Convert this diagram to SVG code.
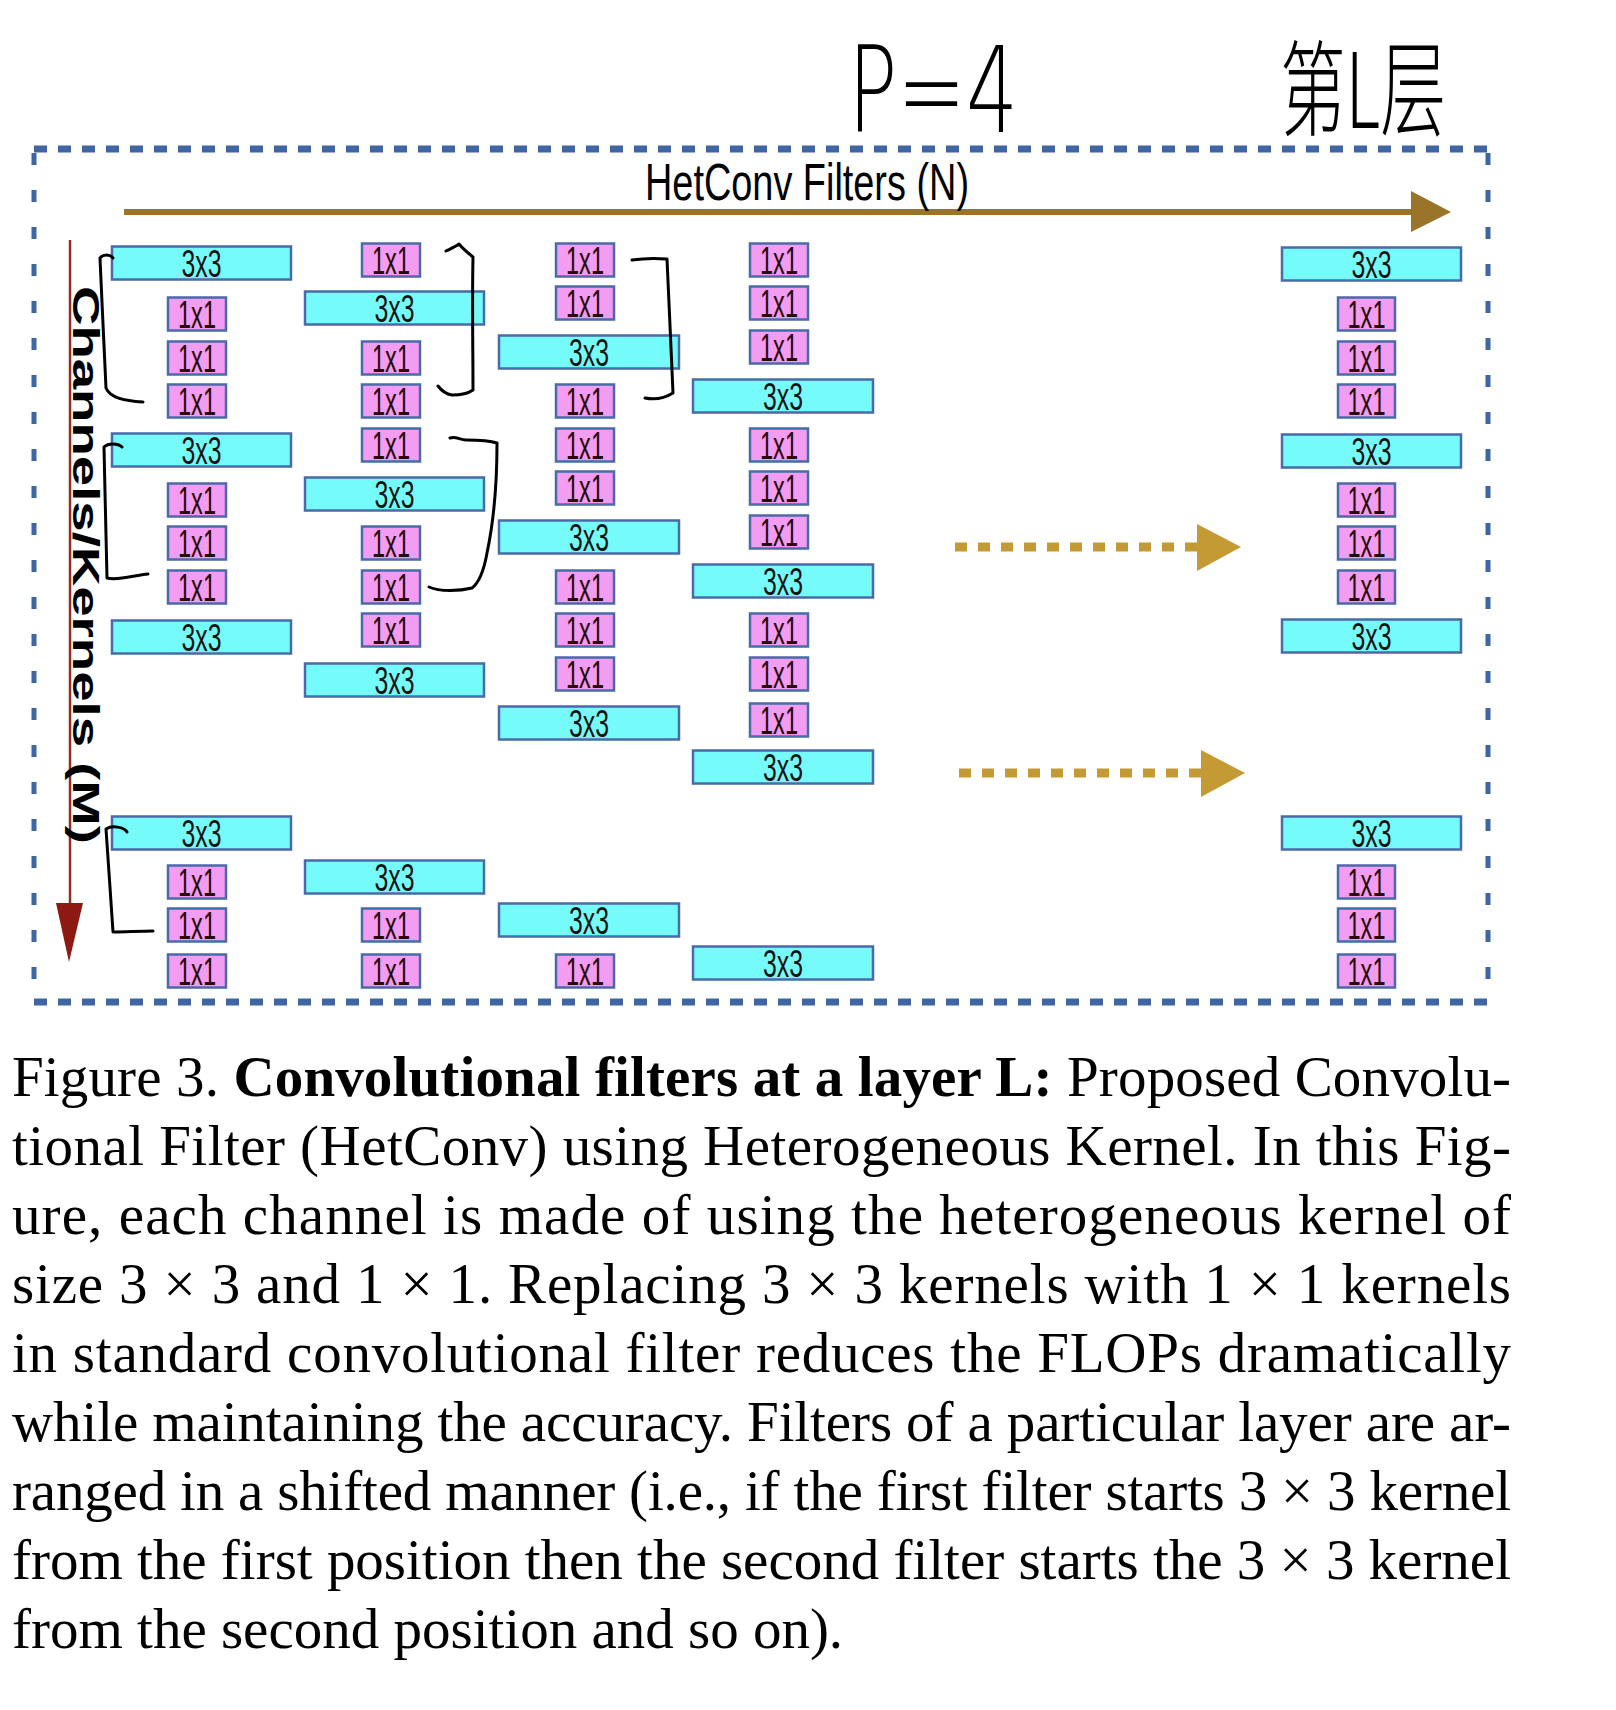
<svg xmlns="http://www.w3.org/2000/svg" width="1616" height="1710" viewBox="0 0 1616 1710">
<style>
.k3{fill:#76fbfb;stroke:#4a6aa8;stroke-width:2.5}
.k1{fill:#f29cf2;stroke:#4a6aa8;stroke-width:2.5}
.t{font-family:"Liberation Sans",Arial,sans-serif;font-size:38px;text-anchor:middle;fill:#141414}
.t1{font-family:"Liberation Sans",Arial,sans-serif;font-size:38px;text-anchor:middle;fill:#2a0808}
.br{fill:none;stroke:#000;stroke-width:3;stroke-linecap:round;stroke-linejoin:round}
.cap{font-family:"Liberation Serif","Times New Roman",serif;font-size:57px;fill:#000}
.hb{stroke:#3f66a2;stroke-width:7;stroke-dasharray:13 11}
.vb{stroke:#3f66a2;stroke-width:5;stroke-dasharray:12 25}
.dot{stroke:#c49a35;stroke-width:9;stroke-dasharray:12 11}
</style>

<!-- handwritten annotations -->
<text x="848" y="132" font-family="DejaVu Sans, sans-serif" font-weight="200" font-size="120" textLength="170" lengthAdjust="spacingAndGlyphs" fill="#000">P=4</text>
<text x="1280" y="128" font-family="Noto Sans CJK SC, sans-serif" font-weight="300" font-size="104" textLength="166" lengthAdjust="spacingAndGlyphs" fill="#000">第L层</text>

<!-- dashed frame -->
<g id="frame">
<line class="hb" x1="34" y1="149" x2="1490" y2="149"/>
<line class="hb" x1="34" y1="1002" x2="1490" y2="1002"/>
<line class="vb" x1="34" y1="153" x2="34" y2="998"/>
<line class="vb" x1="1488" y1="153" x2="1488" y2="998"/>
</g>

<!-- axes -->
<g id="axes">
<line x1="124" y1="212" x2="1413" y2="212" stroke="#9a7428" stroke-width="6"/>
<polygon points="1411,191 1451,212 1411,232" fill="#9a7428"/>
<text x="645" y="200" font-family="Liberation Sans, Arial, sans-serif" font-size="52" textLength="324" lengthAdjust="spacingAndGlyphs" fill="#000">HetConv Filters (N)</text>
<line x1="70" y1="240" x2="70" y2="905" stroke="#9b2a20" stroke-width="2.5"/>
<polygon points="56,903 83,903 69,962" fill="#8c1a12"/>
<text transform="translate(73,286) rotate(90)" font-family="Liberation Sans, Arial, sans-serif" font-weight="bold" font-size="36" textLength="558" lengthAdjust="spacingAndGlyphs" fill="#000">Channels/Kernels  (M)</text>
</g>

<!-- column 1 -->
<g id="c1n1"><rect class="k3" x="112" y="246.5" width="179" height="33"/><text class="t" x="201.5" y="276.5" textLength="40" lengthAdjust="spacingAndGlyphs">3x3</text></g>
<g id="c1n2"><rect class="k1" x="168" y="297.5" width="58" height="33"/><text class="t1" x="197" y="327.5" textLength="38" lengthAdjust="spacingAndGlyphs">1x1</text></g>
<g id="c1n3"><rect class="k1" x="168" y="341.5" width="58" height="33"/><text class="t1" x="197" y="371.5" textLength="38" lengthAdjust="spacingAndGlyphs">1x1</text></g>
<g id="c1n4"><rect class="k1" x="168" y="384.5" width="58" height="33"/><text class="t1" x="197" y="414.5" textLength="38" lengthAdjust="spacingAndGlyphs">1x1</text></g>
<g id="c1n5"><rect class="k3" x="112" y="433.5" width="179" height="33"/><text class="t" x="201.5" y="463.5" textLength="40" lengthAdjust="spacingAndGlyphs">3x3</text></g>
<g id="c1n6"><rect class="k1" x="168" y="483.5" width="58" height="33"/><text class="t1" x="197" y="513.5" textLength="38" lengthAdjust="spacingAndGlyphs">1x1</text></g>
<g id="c1n7"><rect class="k1" x="168" y="526.5" width="58" height="33"/><text class="t1" x="197" y="556.5" textLength="38" lengthAdjust="spacingAndGlyphs">1x1</text></g>
<g id="c1n8"><rect class="k1" x="168" y="570.5" width="58" height="33"/><text class="t1" x="197" y="600.5" textLength="38" lengthAdjust="spacingAndGlyphs">1x1</text></g>
<g id="c1n9"><rect class="k3" x="112" y="620.5" width="179" height="33"/><text class="t" x="201.5" y="650.5" textLength="40" lengthAdjust="spacingAndGlyphs">3x3</text></g>
<g id="c1n10"><rect class="k3" x="112" y="816.5" width="179" height="33"/><text class="t" x="201.5" y="846.5" textLength="40" lengthAdjust="spacingAndGlyphs">3x3</text></g>
<g id="c1n11"><rect class="k1" x="168" y="865.5" width="58" height="33"/><text class="t1" x="197" y="895.5" textLength="38" lengthAdjust="spacingAndGlyphs">1x1</text></g>
<g id="c1n12"><rect class="k1" x="168" y="908.5" width="58" height="33"/><text class="t1" x="197" y="938.5" textLength="38" lengthAdjust="spacingAndGlyphs">1x1</text></g>
<g id="c1n13"><rect class="k1" x="168" y="954.5" width="58" height="33"/><text class="t1" x="197" y="984.5" textLength="38" lengthAdjust="spacingAndGlyphs">1x1</text></g>

<!-- column 2 -->
<g id="c2n1"><rect class="k1" x="362" y="243.5" width="58" height="33"/><text class="t1" x="391" y="273.5" textLength="38" lengthAdjust="spacingAndGlyphs">1x1</text></g>
<g id="c2n2"><rect class="k3" x="305" y="291.5" width="179" height="33"/><text class="t" x="394.5" y="321.5" textLength="40" lengthAdjust="spacingAndGlyphs">3x3</text></g>
<g id="c2n3"><rect class="k1" x="362" y="341.5" width="58" height="33"/><text class="t1" x="391" y="371.5" textLength="38" lengthAdjust="spacingAndGlyphs">1x1</text></g>
<g id="c2n4"><rect class="k1" x="362" y="384.5" width="58" height="33"/><text class="t1" x="391" y="414.5" textLength="38" lengthAdjust="spacingAndGlyphs">1x1</text></g>
<g id="c2n5"><rect class="k1" x="362" y="428.5" width="58" height="33"/><text class="t1" x="391" y="458.5" textLength="38" lengthAdjust="spacingAndGlyphs">1x1</text></g>
<g id="c2n6"><rect class="k3" x="305" y="477.5" width="179" height="33"/><text class="t" x="394.5" y="507.5" textLength="40" lengthAdjust="spacingAndGlyphs">3x3</text></g>
<g id="c2n7"><rect class="k1" x="362" y="526.5" width="58" height="33"/><text class="t1" x="391" y="556.5" textLength="38" lengthAdjust="spacingAndGlyphs">1x1</text></g>
<g id="c2n8"><rect class="k1" x="362" y="570.5" width="58" height="33"/><text class="t1" x="391" y="600.5" textLength="38" lengthAdjust="spacingAndGlyphs">1x1</text></g>
<g id="c2n9"><rect class="k1" x="362" y="613.5" width="58" height="33"/><text class="t1" x="391" y="643.5" textLength="38" lengthAdjust="spacingAndGlyphs">1x1</text></g>
<g id="c2n10"><rect class="k3" x="305" y="663.5" width="179" height="33"/><text class="t" x="394.5" y="693.5" textLength="40" lengthAdjust="spacingAndGlyphs">3x3</text></g>
<g id="c2n11"><rect class="k3" x="305" y="860.5" width="179" height="33"/><text class="t" x="394.5" y="890.5" textLength="40" lengthAdjust="spacingAndGlyphs">3x3</text></g>
<g id="c2n12"><rect class="k1" x="362" y="908.5" width="58" height="33"/><text class="t1" x="391" y="938.5" textLength="38" lengthAdjust="spacingAndGlyphs">1x1</text></g>
<g id="c2n13"><rect class="k1" x="362" y="954.5" width="58" height="33"/><text class="t1" x="391" y="984.5" textLength="38" lengthAdjust="spacingAndGlyphs">1x1</text></g>

<!-- column 3 -->
<g id="c3n1"><rect class="k1" x="556" y="243.5" width="58" height="33"/><text class="t1" x="585" y="273.5" textLength="38" lengthAdjust="spacingAndGlyphs">1x1</text></g>
<g id="c3n2"><rect class="k1" x="556" y="286.5" width="58" height="33"/><text class="t1" x="585" y="316.5" textLength="38" lengthAdjust="spacingAndGlyphs">1x1</text></g>
<g id="c3n3"><rect class="k3" x="499" y="335.5" width="180" height="33"/><text class="t" x="589" y="365.5" textLength="40" lengthAdjust="spacingAndGlyphs">3x3</text></g>
<g id="c3n4"><rect class="k1" x="556" y="384.5" width="58" height="33"/><text class="t1" x="585" y="414.5" textLength="38" lengthAdjust="spacingAndGlyphs">1x1</text></g>
<g id="c3n5"><rect class="k1" x="556" y="428.5" width="58" height="33"/><text class="t1" x="585" y="458.5" textLength="38" lengthAdjust="spacingAndGlyphs">1x1</text></g>
<g id="c3n6"><rect class="k1" x="556" y="471.5" width="58" height="33"/><text class="t1" x="585" y="501.5" textLength="38" lengthAdjust="spacingAndGlyphs">1x1</text></g>
<g id="c3n7"><rect class="k3" x="499" y="520.5" width="180" height="33"/><text class="t" x="589" y="550.5" textLength="40" lengthAdjust="spacingAndGlyphs">3x3</text></g>
<g id="c3n8"><rect class="k1" x="556" y="570.5" width="58" height="33"/><text class="t1" x="585" y="600.5" textLength="38" lengthAdjust="spacingAndGlyphs">1x1</text></g>
<g id="c3n9"><rect class="k1" x="556" y="613.5" width="58" height="33"/><text class="t1" x="585" y="643.5" textLength="38" lengthAdjust="spacingAndGlyphs">1x1</text></g>
<g id="c3n10"><rect class="k1" x="556" y="657.5" width="58" height="33"/><text class="t1" x="585" y="687.5" textLength="38" lengthAdjust="spacingAndGlyphs">1x1</text></g>
<g id="c3n11"><rect class="k3" x="499" y="706.5" width="180" height="33"/><text class="t" x="589" y="736.5" textLength="40" lengthAdjust="spacingAndGlyphs">3x3</text></g>
<g id="c3n12"><rect class="k3" x="499" y="903.5" width="180" height="33"/><text class="t" x="589" y="933.5" textLength="40" lengthAdjust="spacingAndGlyphs">3x3</text></g>
<g id="c3n13"><rect class="k1" x="556" y="954.5" width="58" height="33"/><text class="t1" x="585" y="984.5" textLength="38" lengthAdjust="spacingAndGlyphs">1x1</text></g>

<!-- column 4 -->
<g id="c4n1"><rect class="k1" x="750" y="243.5" width="58" height="33"/><text class="t1" x="779" y="273.5" textLength="38" lengthAdjust="spacingAndGlyphs">1x1</text></g>
<g id="c4n2"><rect class="k1" x="750" y="286.5" width="58" height="33"/><text class="t1" x="779" y="316.5" textLength="38" lengthAdjust="spacingAndGlyphs">1x1</text></g>
<g id="c4n3"><rect class="k1" x="750" y="330.5" width="58" height="33"/><text class="t1" x="779" y="360.5" textLength="38" lengthAdjust="spacingAndGlyphs">1x1</text></g>
<g id="c4n4"><rect class="k3" x="693" y="379.5" width="180" height="33"/><text class="t" x="783" y="409.5" textLength="40" lengthAdjust="spacingAndGlyphs">3x3</text></g>
<g id="c4n5"><rect class="k1" x="750" y="428.5" width="58" height="33"/><text class="t1" x="779" y="458.5" textLength="38" lengthAdjust="spacingAndGlyphs">1x1</text></g>
<g id="c4n6"><rect class="k1" x="750" y="471.5" width="58" height="33"/><text class="t1" x="779" y="501.5" textLength="38" lengthAdjust="spacingAndGlyphs">1x1</text></g>
<g id="c4n7"><rect class="k1" x="750" y="515.5" width="58" height="33"/><text class="t1" x="779" y="545.5" textLength="38" lengthAdjust="spacingAndGlyphs">1x1</text></g>
<g id="c4n8"><rect class="k3" x="693" y="564.5" width="180" height="33"/><text class="t" x="783" y="594.5" textLength="40" lengthAdjust="spacingAndGlyphs">3x3</text></g>
<g id="c4n9"><rect class="k1" x="750" y="613.5" width="58" height="33"/><text class="t1" x="779" y="643.5" textLength="38" lengthAdjust="spacingAndGlyphs">1x1</text></g>
<g id="c4n10"><rect class="k1" x="750" y="657.5" width="58" height="33"/><text class="t1" x="779" y="687.5" textLength="38" lengthAdjust="spacingAndGlyphs">1x1</text></g>
<g id="c4n11"><rect class="k1" x="750" y="703.5" width="58" height="33"/><text class="t1" x="779" y="733.5" textLength="38" lengthAdjust="spacingAndGlyphs">1x1</text></g>
<g id="c4n12"><rect class="k3" x="693" y="750.5" width="180" height="33"/><text class="t" x="783" y="780.5" textLength="40" lengthAdjust="spacingAndGlyphs">3x3</text></g>
<g id="c4n13"><rect class="k3" x="693" y="946.5" width="180" height="33"/><text class="t" x="783" y="976.5" textLength="40" lengthAdjust="spacingAndGlyphs">3x3</text></g>

<!-- column 5 (last filter) -->
<g id="c5n1"><rect class="k3" x="1282" y="247.5" width="179" height="33"/><text class="t" x="1371.5" y="277.5" textLength="40" lengthAdjust="spacingAndGlyphs">3x3</text></g>
<g id="c5n2"><rect class="k1" x="1338" y="297.5" width="57" height="33"/><text class="t1" x="1366.5" y="327.5" textLength="38" lengthAdjust="spacingAndGlyphs">1x1</text></g>
<g id="c5n3"><rect class="k1" x="1338" y="341.5" width="57" height="33"/><text class="t1" x="1366.5" y="371.5" textLength="38" lengthAdjust="spacingAndGlyphs">1x1</text></g>
<g id="c5n4"><rect class="k1" x="1338" y="384.5" width="57" height="33"/><text class="t1" x="1366.5" y="414.5" textLength="38" lengthAdjust="spacingAndGlyphs">1x1</text></g>
<g id="c5n5"><rect class="k3" x="1282" y="434.5" width="179" height="33"/><text class="t" x="1371.5" y="464.5" textLength="40" lengthAdjust="spacingAndGlyphs">3x3</text></g>
<g id="c5n6"><rect class="k1" x="1338" y="483.5" width="57" height="33"/><text class="t1" x="1366.5" y="513.5" textLength="38" lengthAdjust="spacingAndGlyphs">1x1</text></g>
<g id="c5n7"><rect class="k1" x="1338" y="526.5" width="57" height="33"/><text class="t1" x="1366.5" y="556.5" textLength="38" lengthAdjust="spacingAndGlyphs">1x1</text></g>
<g id="c5n8"><rect class="k1" x="1338" y="570.5" width="57" height="33"/><text class="t1" x="1366.5" y="600.5" textLength="38" lengthAdjust="spacingAndGlyphs">1x1</text></g>
<g id="c5n9"><rect class="k3" x="1282" y="619.5" width="179" height="33"/><text class="t" x="1371.5" y="649.5" textLength="40" lengthAdjust="spacingAndGlyphs">3x3</text></g>
<g id="c5n10"><rect class="k3" x="1282" y="816.5" width="179" height="33"/><text class="t" x="1371.5" y="846.5" textLength="40" lengthAdjust="spacingAndGlyphs">3x3</text></g>
<g id="c5n11"><rect class="k1" x="1338" y="865.5" width="57" height="33"/><text class="t1" x="1366.5" y="895.5" textLength="38" lengthAdjust="spacingAndGlyphs">1x1</text></g>
<g id="c5n12"><rect class="k1" x="1338" y="908.5" width="57" height="33"/><text class="t1" x="1366.5" y="938.5" textLength="38" lengthAdjust="spacingAndGlyphs">1x1</text></g>
<g id="c5n13"><rect class="k1" x="1338" y="954.5" width="57" height="33"/><text class="t1" x="1366.5" y="984.5" textLength="38" lengthAdjust="spacingAndGlyphs">1x1</text></g>

<!-- connectors: dotted continuation arrows and handwritten brackets -->
<g id="connectors">
<line class="dot" x1="955" y1="547" x2="1197" y2="547"/>
<polygon points="1197,524 1241,547 1197,571" fill="#c49a35"/>
<line class="dot" x1="959" y1="773" x2="1201" y2="773"/>
<polygon points="1201,750 1245,773 1201,797" fill="#c49a35"/>
<path class="br" d="M113,258 C110,254 103,254 100,258 C102,300 104,350 106,388 C110,398 125,401 143,402"/>
<path class="br" d="M122,447 C118,443 108,443 104,447 C105,490 106,540 107,578 C118,581 135,575 148,574"/>
<path class="br" d="M127,832 C124,827 112,825 106,829 C108,860 111,900 113,932 C125,932 140,931 153,931"/>
<path class="br" d="M446,251 C450,249 455,247 459,244 C463,249 468,253 473,257 C472,300 473,350 473,390 C466,395 458,395 452,395 C446,394 441,390 438,386"/>
<path class="br" d="M450,438 C456,436 460,440 466,440 C476,440 488,440 497,443 C497,480 494,520 487,553 C484,570 480,582 472,588 C460,591 440,592 429,587"/>
<path class="br" d="M632,260 C645,258 656,258 667,259 C669,300 671,350 673,393 C665,398 655,400 645,398"/>
</g>

<!-- caption -->
<g id="caption">
<text class="cap" x="12" y="1096" textLength="1499">Figure 3. <tspan font-weight="bold">Convolutional filters at a layer L:</tspan> Proposed Convolu-</text>
<text class="cap" x="12" y="1165" textLength="1499">tional Filter (HetConv) using Heterogeneous Kernel.  In this Fig-</text>
<text class="cap" x="12" y="1234" textLength="1499">ure, each channel is made of using the heterogeneous kernel of</text>
<text class="cap" x="12" y="1303" textLength="1499">size 3 × 3 and 1 × 1. Replacing 3 × 3 kernels with 1 × 1 kernels</text>
<text class="cap" x="12" y="1372" textLength="1499">in standard convolutional filter reduces the FLOPs dramatically</text>
<text class="cap" x="12" y="1441" textLength="1499">while maintaining the accuracy. Filters of a particular layer are ar-</text>
<text class="cap" x="12" y="1510" textLength="1499">ranged in a shifted manner (i.e., if the first filter starts 3 × 3 kernel</text>
<text class="cap" x="12" y="1579" textLength="1499">from the first position then the second filter starts the 3 × 3 kernel</text>
<text class="cap" x="12" y="1648">from the second position and so on).</text>
</g>
</svg>
